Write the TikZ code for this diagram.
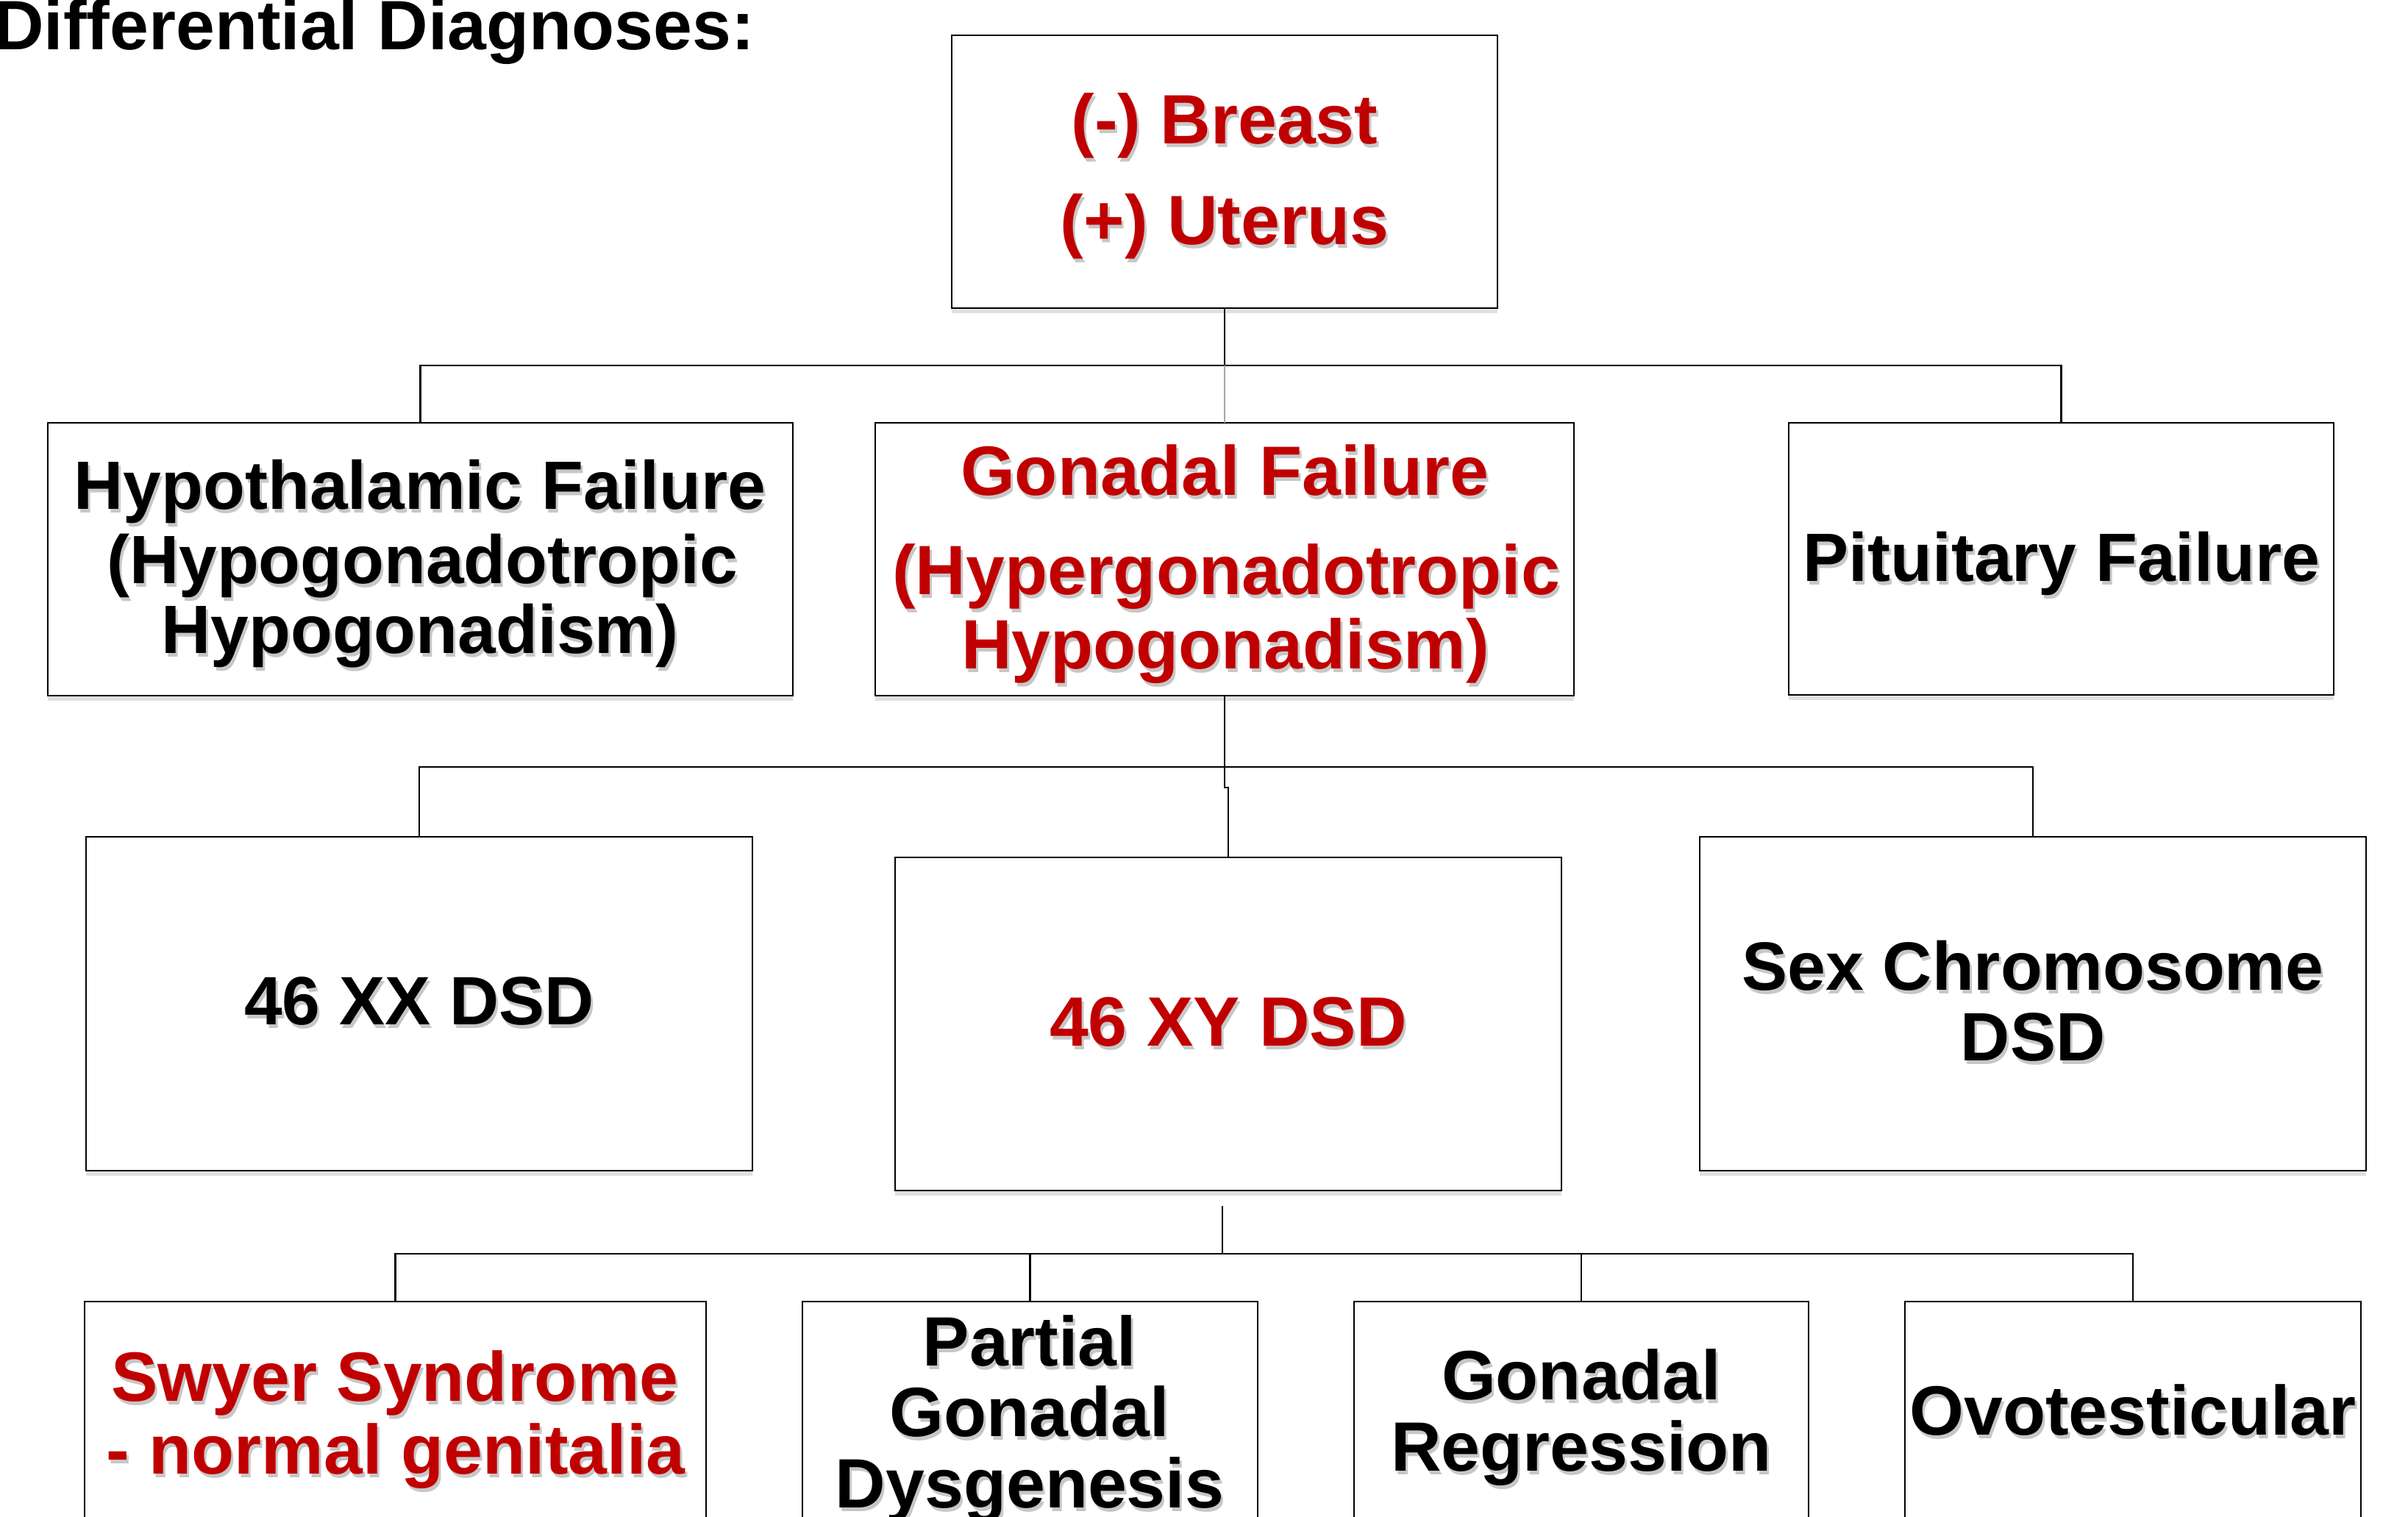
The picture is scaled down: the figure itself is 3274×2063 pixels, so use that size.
\documentclass[tikz,border=0pt]{standalone}
\usepackage{fontspec}
\setmainfont{Liberation Sans}
\usetikzlibrary{shadows}
\definecolor{dred}{HTML}{C00000}
\newcommand\shd[1]{\rlap{\kern3pt\raisebox{-5pt}{\color{black!22}#1}}#1}
\tikzset{
  box/.style={draw=black, line width=2.2pt, fill=white, inner sep=0pt, outer sep=0pt,
    drop shadow={shadow xshift=0pt, shadow yshift=-7pt, opacity=0.12, fill=black}},
  lbl/.style={anchor=base, inner sep=0pt, font=\fontsize{95}{95}\selectfont\bfseries},
  lbls/.style={anchor=base, inner sep=0pt, font=\fontsize{93}{93}\selectfont\bfseries},
  rd/.style={text=dred},
  conn/.style={draw=black, line width=2.2pt},
  faint/.style={draw=gray!70, line width=1.6pt},
}
\begin{document}
\begin{tikzpicture}[x=1pt,y=-1pt]
\useasboundingbox (0,0) rectangle (3274,2063);
\clip (0,0) rectangle (3274,2063);

% title
\node[anchor=base west, inner sep=0pt, font=\fontsize{95}{95}\selectfont\bfseries] (title) at (-9,68) {Differential Diagnoses:};

% boxes
\node[box, minimum width=742pt, minimum height=371pt] (top) at (1665,233.5) {};
\node[box, minimum width=1013pt, minimum height=371pt] (hypo) at (571.5,760.5) {};
\node[box, minimum width=950pt, minimum height=371pt] (gon) at (1665,760.5) {};
\node[box, minimum width=741pt, minimum height=370pt] (pit) at (2802.5,760) {};
\node[box, minimum width=906pt, minimum height=454pt] (xx) at (570,1365) {};
\node[box, minimum width=906pt, minimum height=453pt] (xy) at (1670,1392.5) {};
\node[box, minimum width=906pt, minimum height=454pt] (sc) at (2764,1365) {};
\node[box, minimum width=845pt, minimum height=430pt] (swy) at (537.5,1985) {};
\node[box, minimum width=619pt, minimum height=430pt] (par) at (1400.5,1985) {};
\node[box, minimum width=618pt, minimum height=430pt] (reg) at (2150,1985) {};
\node[box, minimum width=620pt, minimum height=430pt] (ovo) at (2900,1985) {};

% junction coordinates
\coordinate (j1) at (1665,497);
\coordinate (j2) at (1665,1043);
\coordinate (k) at (1665,1071);
\coordinate (j3a) at (1662,1640);
\coordinate (j3) at (1662,1705);

% connectors level 2
\draw[conn] (top.south) -- (j1);
\draw[conn] (hypo.north) |- (j1);
\draw[conn] (pit.north) |- (j1);
\draw[faint] (gon.north) -- (j1);
% level 3
\draw[conn] (gon.south) -- (k) -| (xy.north);
\draw[conn] (xx.north) -- (xx.north |- j2) -- (sc.north |- j2) -- (sc.north);
% level 4
\draw[conn] (j3a) -- (j3);
\draw[conn] (swy.north) -- (swy.north |- j3) -- (ovo.north |- j3) -- (ovo.north);
\draw[conn] (par.north) -- (par.north |- j3);
\draw[conn] (reg.north) -- (reg.north |- j3);

% texts
\node[lbl, rd] (t1) at (1665,196) {\shd{(-) Breast}};
\node[lbl, rd] (t2) at (1665,332) {\shd{(+) Uterus}};

\node[lbls] (h1) at (571,692) {\shd{Hypothalamic Failure}};
\node[lbls] (h2) at (574,793) {\shd{(Hypogonadotropic}};
\node[lbls] (h3) at (571,888) {\shd{Hypogonadism)}};

\node[lbl, rd] (g1) at (1665,673) {\shd{Gonadal Failure}};
\node[lbl, rd] (g2) at (1667,808) {\shd{(Hypergonadotropic}};
\node[lbl, rd] (g3) at (1666,909) {\shd{Hypogonadism)}};

\node[lbls] (p1) at (2803,790) {\shd{Pituitary Failure}};

\node[lbls] (x1) at (570,1393) {\shd{46 XX DSD}};
\node[lbl, rd] (y1) at (1670,1422) {\shd{46 XY DSD}};
\node[lbls] (s1) at (2764,1346) {\shd{Sex Chromosome}};
\node[lbls] (s2) at (2764,1442) {\shd{DSD}};

\node[lbl, rd] (w1) at (537,1905) {\shd{Swyer Syndrome}};
\node[lbl, rd] (w2) at (538,2004) {\shd{- normal genitalia}};

\node[lbl] (pa1) at (1400,1857) {\shd{Partial}};
\node[lbl] (pa2) at (1400,1953) {\shd{Gonadal}};
\node[lbl] (pa3) at (1400,2050) {\shd{Dysgenesis}};

\node[lbl] (r1) at (2150,1903) {\shd{Gonadal}};
\node[lbl] (r2) at (2150,2000) {\shd{Regression}};

\node[lbl] (o1) at (2900,1951) {\shd{Ovotesticular}};
\end{tikzpicture}
\end{document}
